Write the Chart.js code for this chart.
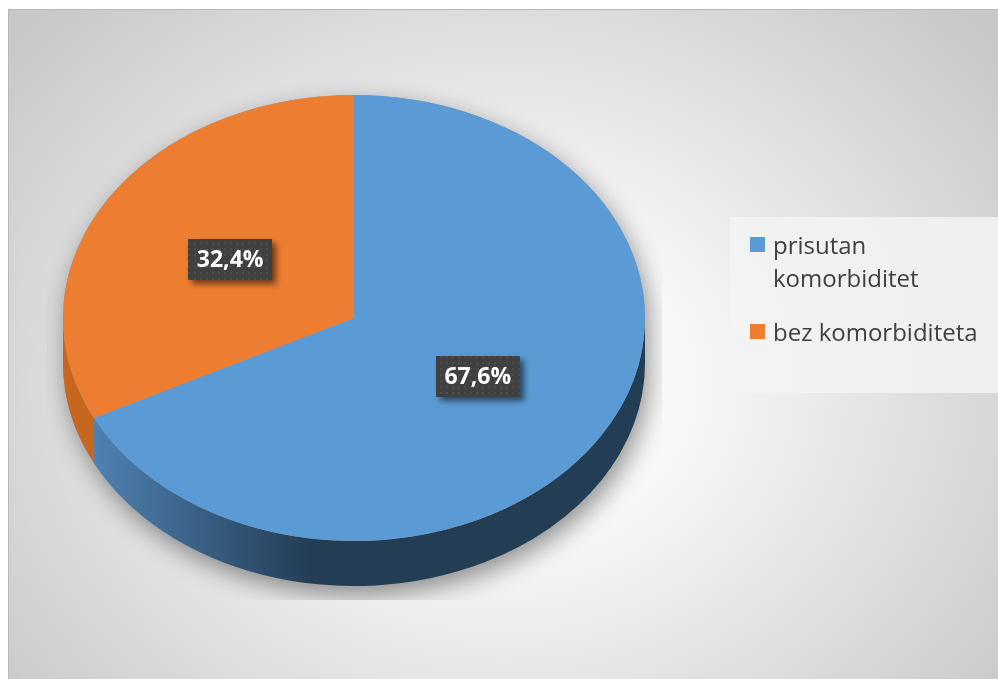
<!DOCTYPE html>
<html>
<head>
<meta charset="utf-8">
<script src="https://cdn.jsdelivr.net/npm/chart.js@4.4.1/dist/chart.umd.min.js"></script>
<style>
  html, body { margin: 0; padding: 0; background: #fff; }
  #wrap { position: relative; width: 998px; height: 679px; overflow: hidden; }
  #frame {
    position: absolute; left: 8px; top: 9px; width: 990px; height: 670px;
    box-sizing: border-box;
    border-top: 1px solid #b8b8b8; border-left: 1px solid #b8b8b8;
    background: radial-gradient(ellipse 64% 80% at 50% 56%, #ffffff 0%, #f7f7f7 30%, #c8c8c8 100%);
  }
  #pie { position: absolute; left: 0; top: 0; }
  #legend {
    position: absolute; left: 730px; top: 217px; width: 268px; height: 176px;
    box-sizing: border-box; padding-top: 11px;
    background: rgba(243, 243, 243, 0.85);
    font-family: "Open Sans", sans-serif; font-size: 24px; color: #404040;
  }
  .item { position: relative; padding-left: 43px; line-height: 33px; margin-bottom: 21px; }
  .sw { position: absolute; left: 20px; top: 9px; width: 15px; height: 15px; }
</style>
</head>
<body>
<div id="wrap">
  <div id="frame"></div>
  <canvas id="pie" width="998" height="679"></canvas>
  <div id="legend"></div>
</div>
<script>
const labels = ["prisutan komorbiditet", "bez komorbiditeta"];
const values = [67.6, 32.4];

const topColors = ["#5b9bd5", "#ed7d31"];
const TILT = 223 / 291;   // vertical squash of the pie
const DEPTH = 45;         // thickness of the 3d side

function labelPattern(ctx) {
  const c = document.createElement("canvas");
  c.width = 6; c.height = 6;
  const p = c.getContext("2d");
  p.fillStyle = "#404040";
  p.fillRect(0, 0, 6, 6);
  p.fillStyle = "#4d4d4d";
  p.fillRect(2, 2, 2, 2);
  return ctx.createPattern(c, "repeat");
}

function sideFill(ctx, i, cx, r) {
  if (i === 0) {
    const g = ctx.createLinearGradient(cx - r * 0.9, 0, cx - r * 0.15, 0);
    g.addColorStop(0, "#4f82b2");
    g.addColorStop(1, "#233d55");
    return g;
  }
  return "#c5671f";
}

const pie3d = {
  id: "pie3d",
  beforeDatasetsDraw(chart) {
    const ctx = chart.ctx;
    const arcs = chart.getDatasetMeta(0).data;
    const { x: cx, y: cy, outerRadius: r } = arcs[0];
    const ry = r * TILT;

    // soft shadow, clipped to the plot area
    ctx.save();
    ctx.beginPath();
    ctx.rect(cx - r - 16, 10, 2 * r + 33, cy + ry + DEPTH + 14 - 10);
    ctx.clip();
    ctx.shadowColor = "rgba(0,0,0,0.42)";
    ctx.shadowBlur = 24;
    ctx.shadowOffsetX = 4;
    ctx.shadowOffsetY = 9;
    ctx.fillStyle = "#999";
    ctx.beginPath();
    ctx.ellipse(cx, cy, r, ry, 0, Math.PI, 2 * Math.PI);
    ctx.ellipse(cx, cy + DEPTH, r, ry, 0, 0, Math.PI);
    ctx.closePath();
    ctx.fill();
    ctx.restore();

    // side walls (only the front half is visible)
    arcs.forEach((arc, i) => {
      for (let k = -1; k <= 1; k++) {
        const a0 = Math.max(arc.startAngle, 2 * Math.PI * k);
        const a1 = Math.min(arc.endAngle, 2 * Math.PI * k + Math.PI);
        if (a1 <= a0) continue;
        ctx.beginPath();
        ctx.ellipse(cx, cy, r, ry, 0, a0, a1);
        ctx.ellipse(cx, cy + DEPTH, r, ry, 0, a1, a0, true);
        ctx.closePath();
        ctx.fillStyle = sideFill(ctx, i, cx, r);
        ctx.fill();
      }
    });

    // squash the top face
    ctx.save();
    ctx.translate(cx, cy);
    ctx.scale(1, TILT);
    ctx.translate(-cx, -cy);
  },
  afterDatasetsDraw(chart) {
    const ctx = chart.ctx;
    ctx.restore();
    const arcs = chart.getDatasetMeta(0).data;
    const pat = labelPattern(ctx);
    ctx.font = "bold 23px 'Open Sans'";
    ctx.textAlign = "center";
    ctx.textBaseline = "middle";
    arcs.forEach((arc, i) => {
      const mid = (arc.startAngle + arc.endAngle) / 2;
      const px = arc.x + arc.outerRadius * 0.5 * Math.cos(mid);
      const py = arc.y + arc.outerRadius * 0.5 * TILT * Math.sin(mid);
      const w = 84, h = 41;
      ctx.save();
      ctx.shadowColor = "rgba(0,0,0,0.55)";
      ctx.shadowBlur = 6;
      ctx.shadowOffsetX = 4;
      ctx.shadowOffsetY = 4;
      ctx.fillStyle = pat;
      ctx.fillRect(Math.round(px - w / 2), Math.round(py - h / 2), w, h);
      ctx.restore();
      ctx.fillStyle = "#ffffff";
      ctx.fillText(values[i].toFixed(1).replace(".", ",") + "%", px, py + 1);
    });
  }
};

new Chart(document.getElementById("pie"), {
  type: "pie",
  data: {
    labels: labels,
    datasets: [{
      data: values,
      backgroundColor: topColors,
      borderWidth: 0,
      clip: false
    }]
  },
  options: {
    responsive: false,
    animation: false,
    events: [],
    layout: { padding: { left: 63, right: 353, top: 27, bottom: 70 } },
    plugins: {
      legend: { display: false },
      tooltip: { enabled: false }
    }
  },
  plugins: [pie3d]
});

const legend = document.getElementById("legend");
labels.forEach((l, i) => {
  const row = document.createElement("div");
  row.className = "item";
  row.innerHTML = `<span class="sw" style="background:${topColors[i]}"></span>${l}`;
  legend.appendChild(row);
});
</script>
</body>
</html>
